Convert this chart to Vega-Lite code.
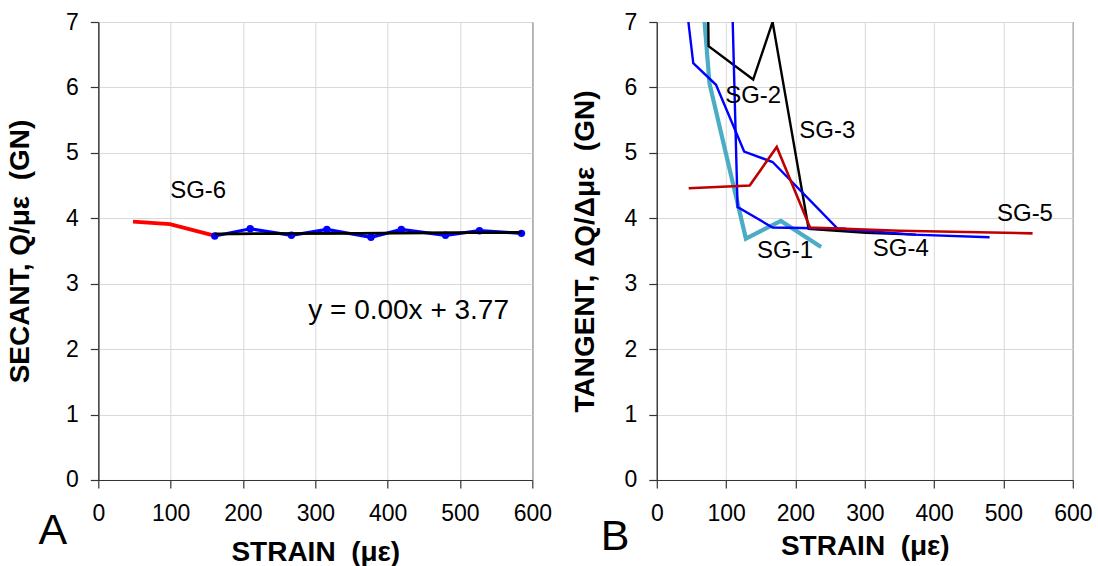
{
  "$schema": "https://vega.github.io/schema/vega-lite/v6.json",
  "background": "white",
  "padding": {"left": 6.3, "top": 10, "right": 0, "bottom": 0},
  "spacing": 18.5,
  "resolve": {"scale": {"color": "independent", "strokeWidth": "independent"}},
  "config": {
    "font": "Liberation Sans",
    "view": {"stroke": "#000000", "strokeWidth": 1},
    "axis": {
      "labelFont": "Liberation Sans", "labelFontSize": 23, "labelColor": "#000000",
      "titleFont": "Liberation Sans", "titleFontSize": 28, "titleFontWeight": "bold", "titleColor": "#000000",
      "domainColor": "#333333", "domainWidth": 1.2, "tickColor": "#333333", "tickWidth": 1.2,
      "gridColor": "#d9d9d9", "gridWidth": 1, "labelOverlap": false, "labelFlush": false
    }
  },
  "datasets": {
    "A_lines": [
      {"series": "data", "strain": 161, "secant": 3.73},
      {"series": "data", "strain": 210, "secant": 3.84},
      {"series": "data", "strain": 267, "secant": 3.74},
      {"series": "data", "strain": 316, "secant": 3.83},
      {"series": "data", "strain": 377, "secant": 3.71},
      {"series": "data", "strain": 419, "secant": 3.83},
      {"series": "data", "strain": 480, "secant": 3.74},
      {"series": "data", "strain": 527, "secant": 3.81},
      {"series": "data", "strain": 585, "secant": 3.77},
      {"series": "fit", "strain": 161, "secant": 3.76},
      {"series": "fit", "strain": 585, "secant": 3.785},
      {"series": "SG-6", "strain": 48, "secant": 3.95},
      {"series": "SG-6", "strain": 99, "secant": 3.91},
      {"series": "SG-6", "strain": 159, "secant": 3.74}
    ],
    "A_labels": [
      {"strain": 138, "secant": 4.41, "label": "SG-6"}
    ],
    "A_eq": [
      {"strain": 429, "secant": 2.59, "label": "y = 0.00x + 3.77"}
    ],
    "A_panel": [
      {"strain": -63, "secant": -0.78, "label": "A"}
    ],
    "B_lines": [
      {"series": "SG-1", "strain": 67, "tangent": 7.25},
      {"series": "SG-1", "strain": 76, "tangent": 6.06},
      {"series": "SG-1", "strain": 128.5, "tangent": 3.69},
      {"series": "SG-1", "strain": 179, "tangent": 3.96},
      {"series": "SG-1", "strain": 237, "tangent": 3.56},
      {"series": "SG-3", "strain": 73.5, "tangent": 7.5},
      {"series": "SG-3", "strain": 74.7, "tangent": 6.63},
      {"series": "SG-3", "strain": 139, "tangent": 6.12},
      {"series": "SG-3", "strain": 167, "tangent": 7.0},
      {"series": "SG-3", "strain": 219, "tangent": 3.84},
      {"series": "SG-3", "strain": 302, "tangent": 3.78},
      {"series": "SG-3", "strain": 374, "tangent": 3.75},
      {"series": "SG-4", "strain": 40, "tangent": 7.5},
      {"series": "SG-4", "strain": 52.6, "tangent": 6.37},
      {"series": "SG-4", "strain": 85.4, "tangent": 6.04},
      {"series": "SG-4", "strain": 126, "tangent": 5.02},
      {"series": "SG-4", "strain": 167, "tangent": 4.86},
      {"series": "SG-4", "strain": 261, "tangent": 3.84},
      {"series": "SG-4", "strain": 370, "tangent": 3.75},
      {"series": "SG-4", "strain": 480, "tangent": 3.71},
      {"series": "SG-2", "strain": 108.5, "tangent": 7.4},
      {"series": "SG-2", "strain": 116.5, "tangent": 4.17},
      {"series": "SG-2", "strain": 167, "tangent": 3.86},
      {"series": "SG-2", "strain": 273, "tangent": 3.84},
      {"series": "SG-5", "strain": 46, "tangent": 4.46},
      {"series": "SG-5", "strain": 134, "tangent": 4.5},
      {"series": "SG-5", "strain": 173, "tangent": 5.09},
      {"series": "SG-5", "strain": 221, "tangent": 3.86},
      {"series": "SG-5", "strain": 350, "tangent": 3.81},
      {"series": "SG-5", "strain": 542, "tangent": 3.77}
    ],
    "B_labels": [
      {"strain": 139, "tangent": 5.87, "label": "SG-2"},
      {"strain": 246, "tangent": 5.33, "label": "SG-3"},
      {"strain": 185, "tangent": 3.5, "label": "SG-1"},
      {"strain": 352, "tangent": 3.53, "label": "SG-4"},
      {"strain": 531, "tangent": 4.06, "label": "SG-5"}
    ],
    "B_panel": [
      {"strain": -60, "tangent": -0.87, "label": "B"}
    ]
  },
  "hconcat": [
    {
      "width": 434,
      "height": 458,
      "layer": [
        {
          "data": {"name": "A_lines"},
          "mark": {"type": "line", "clip": true},
          "encoding": {
            "x": {
              "field": "strain", "type": "quantitative",
              "scale": {"domain": [0, 600], "nice": false},
              "axis": {
                "title": "STRAIN\u00a0 (με)",
                "values": [0, 50, 100, 150, 200, 250, 300, 350, 400, 450, 500, 550, 600],
                "labelExpr": "datum.value % 100 === 0 ? format(datum.value, 'd') : ''",
                "gridOpacity": {"condition": {"test": "datum.value % 100 === 0", "value": 1}, "value": 0},
                "tickSize": {"condition": {"test": "datum.value % 100 === 0", "value": 8}, "value": 5},
                "labelPadding": 14.5,
                "minExtent": 45, "maxExtent": 45,
                "titlePadding": 14
              }
            },
            "y": {
              "field": "secant", "type": "quantitative",
              "scale": {"domain": [0, 7], "nice": false},
              "axis": {
                "title": "SECANT, Q/με\u00a0 (GN)",
                "values": [0, 0.5, 1, 1.5, 2, 2.5, 3, 3.5, 4, 4.5, 5, 5.5, 6, 6.5, 7],
                "labelExpr": "datum.value % 1 === 0 ? format(datum.value, 'd') : ''",
                "gridOpacity": {"condition": {"test": "datum.value % 1 === 0", "value": 1}, "value": 0},
                "tickSize": {"condition": {"test": "datum.value % 1 === 0", "value": 8}, "value": 5},
                "labelPadding": 12,
                "minExtent": 50, "maxExtent": 50,
                "titlePadding": 13.4
              }
            },
            "color": {
              "field": "series", "type": "nominal",
              "scale": {"domain": ["data", "fit", "SG-6"], "range": ["#0000ff", "#000000", "#ff0000"]},
              "legend": null
            },
            "strokeWidth": {
              "field": "series", "type": "nominal",
              "scale": {"type": "ordinal", "domain": ["data", "fit", "SG-6"], "range": [3.2, 2.5, 3.8]},
              "legend": null
            }
          }
        },
        {
          "data": {"name": "A_lines"},
          "transform": [{"filter": "datum.series === 'data'"}],
          "mark": {"type": "point", "filled": true, "size": 55, "color": "#0000ff", "opacity": 1},
          "encoding": {
            "x": {"field": "strain", "type": "quantitative"},
            "y": {"field": "secant", "type": "quantitative"}
          }
        },
        {
          "data": {"name": "A_lines"},
          "transform": [{"filter": "datum.series === 'fit'"}],
          "mark": {"type": "line", "color": "#000000", "strokeWidth": 2.5},
          "encoding": {
            "x": {"field": "strain", "type": "quantitative"},
            "y": {"field": "secant", "type": "quantitative"}
          }
        },
        {
          "data": {"name": "A_labels"},
          "mark": {"type": "text", "fontSize": 24, "color": "#000000", "align": "center", "baseline": "middle"},
          "encoding": {
            "x": {"field": "strain", "type": "quantitative"},
            "y": {"field": "secant", "type": "quantitative"},
            "text": {"field": "label"}
          }
        },
        {
          "data": {"name": "A_eq"},
          "mark": {"type": "text", "fontSize": 28, "color": "#000000", "align": "center", "baseline": "middle"},
          "encoding": {
            "x": {"field": "strain", "type": "quantitative"},
            "y": {"field": "secant", "type": "quantitative"},
            "text": {"field": "label"}
          }
        },
        {
          "data": {"name": "A_panel"},
          "mark": {"type": "text", "fontSize": 43, "color": "#000000", "align": "center", "baseline": "middle", "clip": false},
          "encoding": {
            "x": {"field": "strain", "type": "quantitative"},
            "y": {"field": "secant", "type": "quantitative"},
            "text": {"field": "label"}
          }
        }
      ]
    },
    {
      "width": 416,
      "height": 458,
      "layer": [
        {
          "data": {"name": "B_lines"},
          "mark": {"type": "line", "clip": true},
          "encoding": {
            "x": {
              "field": "strain", "type": "quantitative",
              "scale": {"domain": [0, 600], "nice": false},
              "axis": {
                "title": "STRAIN\u00a0 (με)",
                "values": [0, 50, 100, 150, 200, 250, 300, 350, 400, 450, 500, 550, 600],
                "labelExpr": "datum.value % 100 === 0 ? format(datum.value, 'd') : ''",
                "gridOpacity": {"condition": {"test": "datum.value % 100 === 0", "value": 1}, "value": 0},
                "tickSize": {"condition": {"test": "datum.value % 100 === 0", "value": 8}, "value": 5},
                "labelPadding": 14.5,
                "minExtent": 45, "maxExtent": 45,
                "titlePadding": 7.5
              }
            },
            "y": {
              "field": "tangent", "type": "quantitative",
              "scale": {"domain": [0, 7], "nice": false},
              "axis": {
                "title": "TANGENT, ΔQ/Δμε\u00a0 (GN)",
                "values": [0, 0.5, 1, 1.5, 2, 2.5, 3, 3.5, 4, 4.5, 5, 5.5, 6, 6.5, 7],
                "labelExpr": "datum.value % 1 === 0 ? format(datum.value, 'd') : ''",
                "gridOpacity": {"condition": {"test": "datum.value % 1 === 0", "value": 1}, "value": 0},
                "tickSize": {"condition": {"test": "datum.value % 1 === 0", "value": 8}, "value": 5},
                "labelPadding": 12,
                "minExtent": 50, "maxExtent": 50,
                "titlePadding": 7.1
              }
            },
            "color": {
              "field": "series", "type": "nominal",
              "scale": {"domain": ["SG-1", "SG-3", "SG-4", "SG-2", "SG-5"], "range": ["#4bacc6", "#000000", "#0000ff", "#0000ff", "#c00000"]},
              "legend": null
            },
            "strokeWidth": {
              "field": "series", "type": "nominal",
              "scale": {"type": "ordinal", "domain": ["SG-1", "SG-3", "SG-4", "SG-2", "SG-5"], "range": [4.2, 2.4, 2.4, 2.4, 2.6]},
              "legend": null
            }
          }
        },
        {
          "data": {"name": "B_labels"},
          "mark": {"type": "text", "fontSize": 24, "color": "#000000", "align": "center", "baseline": "middle"},
          "encoding": {
            "x": {"field": "strain", "type": "quantitative"},
            "y": {"field": "tangent", "type": "quantitative"},
            "text": {"field": "label"}
          }
        },
        {
          "data": {"name": "B_panel"},
          "mark": {"type": "text", "fontSize": 43, "color": "#000000", "align": "center", "baseline": "middle", "clip": false},
          "encoding": {
            "x": {"field": "strain", "type": "quantitative"},
            "y": {"field": "tangent", "type": "quantitative"},
            "text": {"field": "label"}
          }
        }
      ]
    }
  ]
}
